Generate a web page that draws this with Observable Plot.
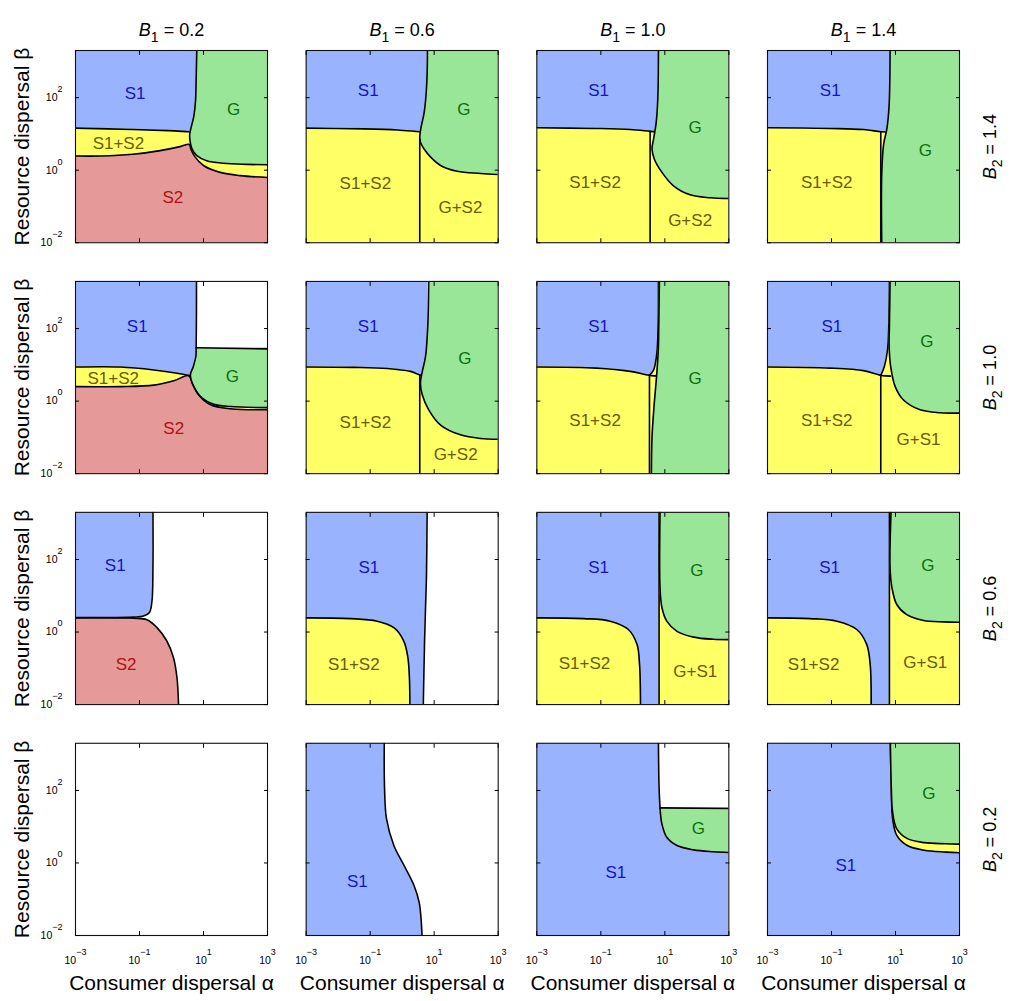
<!DOCTYPE html>
<html>
<head>
<meta charset="utf-8">
<script src="https://cdn.jsdelivr.net/npm/d3@7"></script>
<script src="https://cdn.jsdelivr.net/npm/@observablehq/plot@0.6"></script>
<style>
  body { margin: 0; background: #fff; }
  #chart svg { display: block; }
</style>
</head>
<body>
<div id="chart"></div>
<script>
// ---------- data (log10 exponents of consumer dispersal α and resource dispersal β) ----------
const B1 = [0.2, 0.6, 1.0, 1.4];          // columns
const B2 = [1.4, 1.0, 0.6, 0.2];          // rows (top to bottom)
const xExp = [-3, 3];                     // α range 10^-3 .. 10^3
const yExp = [-2, 3.3];                   // β range 10^-2 .. 10^3.3
const xTicks = [1e-3, 1e-1, 1e1, 1e3];
const yTicks = [1e-2, 1e0, 1e2];
const categories = ["S1", "S2", "G", "mix", "none", "tS1", "tS2", "tG", "tmix"];
const categoryColors = ["#99b3ff", "#e69999", "#99e699", "#ffff66", "#ffffff", "#1414c4", "#b01010", "#0c6e0c", "#6b5a00"];

// each panel: regions painted in order; dir "y" = area between curve and top/bottom,
// dir "x" = area between curve and left/right, "line" = boundary only
const panel_B1_02_B2_14 = [
  {cat: "S2", dir: "full"},
  {cat: "mix", dir: "y", edge: "top", pts: [[-3,0.39],[-2.2,0.39],[-1.2,0.44],[-0.35,0.54],[0.27,0.65],[0.56,0.71],[0.60,0.59],[0.74,0.36],[1.0,0.13],[1.52,-0.06],[2.15,-0.15],[3,-0.2]]},
  {cat: "S1", dir: "y", edge: "top", pts: [[-3,1.16],[-1.2,1.12],[-0.1,1.09],[0.55,1.06],[0.8,1.05]]},
  {cat: "G", dir: "x", edge: "right", pts: [[3,0.15],[2.35,0.16],[1.63,0.19],[1.10,0.26],[0.79,0.40],[0.64,0.59],[0.58,0.80],[0.57,1.0],[0.62,1.2],[0.70,1.5],[0.75,1.9],[0.77,2.5],[0.79,3.3]]}
];
const panel_B1_06_B2_14 = [
  {cat: "mix", dir: "full"},
  {cat: "S1", dir: "y", edge: "top", pts: [[-3,1.16],[-1.2,1.14],[-0.15,1.11],[0.55,1.06],[0.8,1.05]]},
  {cat: "G", dir: "x", edge: "right", pts: [[3,-0.12],[2.45,-0.09],[1.72,-0.03],[1.20,0.13],[0.89,0.36],[0.68,0.59],[0.57,0.77],[0.55,0.91],[0.59,1.18],[0.68,1.55],[0.74,2.01],[0.78,2.66],[0.79,3.3]]},
  {cat: "line", dir: "line", pts: [[0.55,-2],[0.55,0.85]]}
];
const panel_B1_10_B2_14 = [
  {cat: "mix", dir: "full"},
  {cat: "S1", dir: "y", edge: "top", pts: [[-3,1.17],[-1.13,1.15],[-0.08,1.12],[0.54,1.07],[0.8,1.05]]},
  {cat: "G", dir: "x", edge: "right", pts: [[3,-0.78],[2.42,-0.76],[1.79,-0.68],[1.27,-0.43],[0.91,-0.06],[0.67,0.31],[0.60,0.59],[0.65,0.86],[0.73,1.32],[0.78,1.97],[0.80,3.3]]},
  {cat: "line", dir: "line", pts: [[0.54,-2],[0.54,1.07]]}
];
const panel_B1_14_B2_14 = [
  {cat: "mix", dir: "full"},
  {cat: "S1", dir: "y", edge: "top", pts: [[-3,1.17],[-1.04,1.15],[0,1.12],[0.54,1.06],[0.85,1.04]]},
  {cat: "G", dir: "x", edge: "right", pts: [[0.57,-2],[0.57,-0.1],[0.63,0.72],[0.73,1.14],[0.80,1.78],[0.83,3.3]]},
  {cat: "line", dir: "line", pts: [[0.54,-2],[0.54,1.06]]}
];
const panel_B1_02_B2_10 = [
  {cat: "S2", dir: "full"},
  {cat: "mix", dir: "y", edge: "top", pts: [[-3,0.40],[-1.59,0.40],[-0.55,0.44],[0.07,0.56],[0.54,0.70],[0.65,0.49],[0.85,0.17],[1.22,-0.10],[1.84,-0.21],[3,-0.24]]},
  {cat: "S1", dir: "y", edge: "top", pts: [[-3,0.94],[-1.59,0.94],[-0.55,0.86],[0.18,0.77],[0.54,0.71],[0.8,0.69]]},
  {cat: "none", dir: "x", edge: "right", pts: [[0.77,1.47],[0.78,2.5],[0.78,3.3]]},
  {cat: "G", dir: "x", edge: "right", pts: [[3,-0.18],[1.84,-0.15],[1.32,-0.09],[0.96,0.08],[0.70,0.40],[0.59,0.72],[0.68,0.95],[0.76,1.23],[0.77,1.47]]},
  {cat: "line", dir: "line", pts: [[0.77,1.47],[3,1.44]]}
];
const panel_B1_06_B2_10 = [
  {cat: "mix", dir: "full"},
  {cat: "S1", dir: "y", edge: "top", pts: [[-3,0.94],[-1.51,0.93],[-0.47,0.90],[0.26,0.82],[0.57,0.72],[0.8,0.70]]},
  {cat: "G", dir: "x", edge: "right", pts: [[3,-1.05],[2.45,-1.03],[1.82,-0.93],[1.2,-0.66],[0.83,-0.24],[0.63,0.17],[0.57,0.49],[0.63,0.82],[0.73,1.23],[0.80,2.06],[0.83,3.3]]},
  {cat: "line", dir: "line", pts: [[0.55,-2],[0.55,0.72]]}
];
const panel_B1_10_B2_10 = [
  {cat: "mix", dir: "full"},
  {cat: "S1", dir: "y", edge: "top", pts: [[-3,0.94],[-1.13,0.91],[-0.08,0.82],[0.52,0.71],[0.85,0.69]]},
  {cat: "mix", dir: "x", edge: "right", pts: [[0.52,0.71],[0.65,0.86],[0.75,1.32],[0.79,2.06],[0.80,3.3]]},
  {cat: "G", dir: "x", edge: "right", pts: [[0.58,-2],[0.60,-0.98],[0.67,-0.06],[0.75,0.77],[0.80,1.51],[0.81,2.06],[0.83,3.3]]},
  {cat: "line", dir: "line", pts: [[0.52,-2],[0.52,0.71]]}
];
const panel_B1_14_B2_10 = [
  {cat: "mix", dir: "full"},
  {cat: "S1", dir: "y", edge: "top", pts: [[-3,0.94],[-1.04,0.91],[0,0.84],[0.54,0.71],[0.85,0.69]]},
  {cat: "mix", dir: "x", edge: "right", pts: [[0.54,0.71],[0.65,0.95],[0.75,1.41],[0.79,2.06],[0.81,3.3]]},
  {cat: "G", dir: "x", edge: "right", pts: [[3,-0.33],[2.4,-0.32],[1.77,-0.24],[1.25,0.03],[0.99,0.40],[0.85,0.95],[0.80,1.55],[0.81,2.06],[0.83,3.3]]},
  {cat: "line", dir: "line", pts: [[0.54,-2],[0.54,0.71]]}
];
const panel_B1_02_B2_06 = [
  {cat: "none", dir: "full"},
  {cat: "S2", dir: "y", edge: "bottom", pts: [[-3,0.39],[-1.19,0.38],[-0.77,0.34],[-0.46,0.13],[-0.15,-0.24],[0.06,-0.70],[0.17,-1.25],[0.22,-2]]},
  {cat: "S1", dir: "x", edge: "left", pts: [[-3,0.40],[-1.2,0.41],[-0.875,0.44],[-0.69,0.54],[-0.61,0.86],[-0.58,1.78],[-0.58,3.3]]}
];
const panel_B1_06_B2_06 = [
  {cat: "none", dir: "full"},
  {cat: "S1", dir: "x", edge: "left", pts: [[0.66,-2],[0.70,-0.25],[0.73,0.67],[0.76,1.59],[0.78,3.3]]},
  {cat: "mix", dir: "y", edge: "bottom", pts: [[-3,0.39],[-1.61,0.37],[-0.78,0.30],[-0.26,0.12],[0.05,-0.25],[0.18,-0.71],[0.23,-1.35],[0.24,-2]]}
];
const panel_B1_10_B2_06 = [
  {cat: "S1", dir: "full"},
  {cat: "mix", dir: "y", edge: "bottom", pts: [[-3,0.39],[-1.54,0.37],[-0.71,0.30],[-0.14,0.07],[0.13,-0.34],[0.21,-0.90],[0.24,-2]]},
  {cat: "mix", dir: "x", edge: "right", pts: [[0.82,-2],[0.82,3.3]]},
  {cat: "G", dir: "x", edge: "right", pts: [[3,-0.21],[2.52,-0.20],[1.90,-0.14],[1.38,0.02],[1.06,0.30],[0.91,0.67],[0.85,1.22],[0.85,3.3]]}
];
const panel_B1_14_B2_06 = [
  {cat: "S1", dir: "full"},
  {cat: "mix", dir: "y", edge: "bottom", pts: [[-3,0.39],[-1.67,0.37],[-0.83,0.30],[-0.21,0.07],[0.10,-0.34],[0.21,-0.90],[0.24,-2]]},
  {cat: "mix", dir: "x", edge: "right", pts: [[0.81,-2],[0.81,3.3]]},
  {cat: "G", dir: "x", edge: "right", pts: [[3,0.27],[2.5,0.28],[1.88,0.32],[1.35,0.48],[1.04,0.76],[0.89,1.22],[0.83,1.77],[0.86,3.3]]}
];
const panel_B1_02_B2_02 = [
  {cat: "none", dir: "full"}
];
const panel_B1_06_B2_02 = [
  {cat: "none", dir: "full"},
  {cat: "S1", dir: "x", edge: "left", pts: [[0.62,-2],[0.59,-1.54],[0.53,-1.08],[0.37,-0.62],[0.06,-0.07],[-0.26,0.48],[-0.49,1.22],[-0.55,2.05],[-0.56,3.3]]}
];
const panel_B1_10_B2_02 = [
  {cat: "S1", dir: "full"},
  {cat: "none", dir: "x", edge: "right", pts: [[0.85,1.52],[0.82,2.09],[0.80,3.3]]},
  {cat: "G", dir: "x", edge: "right", pts: [[3,0.29],[2.52,0.31],[1.90,0.36],[1.38,0.48],[1.06,0.71],[0.91,1.07],[0.85,1.52]]},
  {cat: "line", dir: "line", pts: [[0.85,1.52],[3,1.50]]}
];
const panel_B1_14_B2_02 = [
  {cat: "S1", dir: "full"},
  {cat: "mix", dir: "x", edge: "right", pts: [[3,0.28],[2.57,0.30],[1.90,0.35],[1.37,0.48],[1.04,0.76],[0.91,1.22],[0.87,2.05],[0.84,3.3]]},
  {cat: "G", dir: "x", edge: "right", pts: [[3,0.52],[2.57,0.53],[1.90,0.56],[1.37,0.67],[1.04,0.94],[0.91,1.40],[0.87,2.05],[0.84,3.3]]}
];

// region labels: [B1, B2, text, category, log10 α, log10 β]
const regionLabels = [
  [0.2,1.4,"S1","S1",-1.14,2.10],[0.2,1.4,"G","G",1.94,1.67],[0.2,1.4,"S1+S2","mix",-1.66,0.73],[0.2,1.4,"S2","S2",0.04,-0.75],
  [0.6,1.4,"S1","S1",-1.06,2.2],[0.6,1.4,"G","G",1.93,1.67],[0.6,1.4,"S1+S2","mix",-1.15,-0.38],[0.6,1.4,"G+S2","mix",1.82,-1.02],
  [1.0,1.4,"S1","S1",-1.07,2.2],[1.0,1.4,"G","G",1.95,1.18],[1.0,1.4,"S1+S2","mix",-1.18,-0.35],[1.0,1.4,"G+S2","mix",1.79,-1.39],
  [1.4,1.4,"S1","S1",-1.04,2.2],[1.4,1.4,"G","G",1.93,0.54],[1.4,1.4,"S1+S2","mix",-1.15,-0.35],
  [0.2,1.0,"S1","S1",-1.07,2.06],[0.2,1.0,"G","G",1.9,0.68],[0.2,1.0,"S1+S2","mix",-1.82,0.63],[0.2,1.0,"S2","S2",0.07,-0.75],
  [0.6,1.0,"S1","S1",-1.06,2.06],[0.6,1.0,"G","G",1.96,1.18],[0.6,1.0,"S1+S2","mix",-1.15,-0.58],[0.6,1.0,"G+S2","mix",1.67,-1.48],
  [1.0,1.0,"S1","S1",-1.07,2.06],[1.0,1.0,"G","G",1.95,0.63],[1.0,1.0,"S1+S2","mix",-1.18,-0.54],
  [1.4,1.0,"S1","S1",-0.99,2.06],[1.4,1.0,"G","G",1.98,1.64],[1.4,1.0,"S1+S2","mix",-1.15,-0.54],[1.4,1.0,"G+S1","mix",1.72,-1.07],
  [0.2,0.6,"S1","S1",-1.76,1.83],[0.2,0.6,"S2","S2",-1.42,-0.89],
  [0.6,0.6,"S1","S1",-1.04,1.77],[0.6,0.6,"S1+S2","mix",-1.51,-0.9],
  [1.0,0.6,"S1","S1",-1.07,1.77],[1.0,0.6,"G","G",2.0,1.70],[1.0,0.6,"S1+S2","mix",-1.51,-0.88],[1.0,0.6,"G+S1","mix",1.95,-1.08],
  [1.4,0.6,"S1","S1",-1.06,1.79],[1.4,0.6,"G","G",2.01,1.82],[1.4,0.6,"S1+S2","mix",-1.56,-0.9],[1.4,0.6,"G+S1","mix",1.93,-0.85],
  [0.6,0.2,"S1","S1",-1.4,-0.51],
  [1.0,0.2,"S1","S1",-0.53,-0.26],[1.0,0.2,"G","G",2.05,0.94],
  [1.4,0.2,"S1","S1",-0.55,-0.07],[1.4,0.2,"G","G",2.04,1.91]
];

const panels = [
  [0.2,1.4,panel_B1_02_B2_14],[0.6,1.4,panel_B1_06_B2_14],[1.0,1.4,panel_B1_10_B2_14],[1.4,1.4,panel_B1_14_B2_14],
  [0.2,1.0,panel_B1_02_B2_10],[0.6,1.0,panel_B1_06_B2_10],[1.0,1.0,panel_B1_10_B2_10],[1.4,1.0,panel_B1_14_B2_10],
  [0.2,0.6,panel_B1_02_B2_06],[0.6,0.6,panel_B1_06_B2_06],[1.0,0.6,panel_B1_10_B2_06],[1.4,0.6,panel_B1_14_B2_06],
  [0.2,0.2,panel_B1_02_B2_02],[0.6,0.2,panel_B1_06_B2_02],[1.0,0.2,panel_B1_10_B2_02],[1.4,0.2,panel_B1_14_B2_02]
];

// ---------- build table ----------
const edgeValue = {top: 10 ** yExp[1], bottom: 10 ** yExp[0], left: 10 ** xExp[0], right: 10 ** xExp[1]};
const rows = [];
for (const [b1, b2, layers] of panels) {
  layers.forEach((L, k) => {
    const full = L.dir === "full";
    const pts = full ? [[xExp[0], yExp[1]], [xExp[1], yExp[1]]] : L.pts;
    for (const [lx, ly] of pts) {
      rows.push({
        b1, b2, id: `${b1}|${b2}|${k}`, order: k, cat: L.cat,
        dir: full ? "y" : L.dir,
        edge: full ? edgeValue.bottom : (L.edge ? edgeValue[L.edge] : null),
        stroke: !full,
        x: 10 ** lx, y: 10 ** ly
      });
    }
  });
}
const labelRows = regionLabels.map(([b1, b2, text, cat, ax, ay]) => ({b1, b2, text, cat: "t" + cat, x: 10 ** ax, y: 10 ** ay}));

const maxOrder = d3.max(rows, d => d.order);
const regionMarks = [];
for (let k = 0; k <= maxOrder; k++) {
  const ry = rows.filter(d => d.order === k && d.dir === "y");
  const rx = rows.filter(d => d.order === k && d.dir === "x");
  const rl = rows.filter(d => d.order === k && d.stroke);
  regionMarks.push(
    Plot.areaY(ry, {fx: "b1", fy: "b2", x: "x", y1: "edge", y2: "y", z: "id", fill: "cat", curve: "catmull-rom", clip: true}),
    Plot.areaX(rx, {fx: "b1", fy: "b2", y: "y", x1: "edge", x2: "x", z: "id", fill: "cat", curve: "catmull-rom", clip: true}),
    Plot.line(rl, {fx: "b1", fy: "b2", x: "x", y: "y", z: "id", stroke: "#000", strokeWidth: 1.6, curve: "catmull-rom", clip: true})
  );
}

const powFmt = d => "10^" + Math.round(Math.log10(d));
const blank = () => "";
const font = "'Liberation Sans', Arial, Helvetica, sans-serif";

const chart = Plot.plot({
  width: 1021,
  height: 1001,
  marginLeft: 75, marginRight: 62, marginTop: 50, marginBottom: 66,
  style: {fontFamily: font, background: "#fff"},
  x: {type: "log", domain: [10 ** xExp[0], 10 ** xExp[1]]},
  y: {type: "log", domain: [10 ** yExp[0], 10 ** yExp[1]]},
  fx: {domain: B1, paddingInner: 0.1676, paddingOuter: 0, round: false, axis: null},
  fy: {domain: B2, paddingInner: 0.1676, paddingOuter: 0, round: false, axis: null},
  color: {domain: categories, range: categoryColors},
  marks: [
    ...regionMarks,
    Plot.frame({stroke: "#111", strokeWidth: 1.1}),
    Plot.axisX({anchor: "bottom", ticks: xTicks, tickSize: -4, tickFormat: blank, label: null, facetAnchor: null}),
    Plot.axisX({anchor: "top", ticks: xTicks, tickSize: -4, tickFormat: blank, label: null, facetAnchor: null}),
    Plot.axisY({anchor: "left", ticks: yTicks, tickSize: -4, tickFormat: blank, label: null, facetAnchor: null}),
    Plot.axisY({anchor: "right", ticks: yTicks, tickSize: -4, tickFormat: blank, label: null, facetAnchor: null}),
    Plot.axisX({anchor: "bottom", ticks: xTicks, tickSize: 0, tickPadding: 21, tickFormat: powFmt, label: null, fontSize: 10.5, fill: "#000"}),
    Plot.axisY({anchor: "left", ticks: yTicks, tickSize: 0, tickPadding: 13, tickFormat: powFmt, label: null, fontSize: 10.5, fill: "#000"}),
    Plot.text(labelRows, {fx: "b1", fy: "b2", x: "x", y: "y", text: "text", fill: "cat", fontSize: 17}),
    Plot.text(B1, {fx: d => d, fy: () => B2[0], frameAnchor: "top", dy: -15, lineAnchor: "bottom", textAnchor: "middle", text: d => `B1 = ${d.toFixed(1)}`, fontSize: 18, fill: "#000"}),
    Plot.text(B2, {fy: d => d, fx: () => B1[B1.length - 1], frameAnchor: "right", dx: 31, rotate: -90, textAnchor: "middle", text: d => `B2 = ${d.toFixed(1)}`, fontSize: 18, fill: "#000"}),
    Plot.text(B2, {fy: d => d, fx: () => B1[0], frameAnchor: "left", dx: -53, rotate: -90, textAnchor: "middle", text: () => "Resource dispersal β", fontSize: 21, fill: "#000"}),
    Plot.text(B1, {fx: d => d, fy: () => B2[B2.length - 1], frameAnchor: "bottom", dy: 54, textAnchor: "middle", text: () => "Consumer dispersal α", fontSize: 21, fill: "#000"})
  ]
});

// rich text: superscript exponents and subscripted, italic B labels
const SVGNS = "http://www.w3.org/2000/svg";
function rich(t, parts) {
  t.textContent = "";
  for (const [txt, attrs] of parts) {
    const s = document.createElementNS(SVGNS, "tspan");
    s.textContent = txt;
    for (const k in attrs) s.setAttribute(k, attrs[k]);
    t.appendChild(s);
  }
}
chart.querySelectorAll("text").forEach(t => {
  const s = t.textContent;
  let m = /^10\^(-?\d+)$/.exec(s);
  if (m) {
    rich(t, [["10", {}], [m[1].replace("-", "\u2212"), {dy: "-9", "font-size": "9"}]]);
    return;
  }
  m = /^B(\d) = (.+)$/.exec(s);
  if (m) {
    rich(t, [["B", {"font-style": "italic"}], [m[1], {dy: "6", "font-size": "14"}], [" = " + m[2], {dy: "-6"}]]);
  }
});

document.getElementById("chart").appendChild(chart);
</script>
</body>
</html>
